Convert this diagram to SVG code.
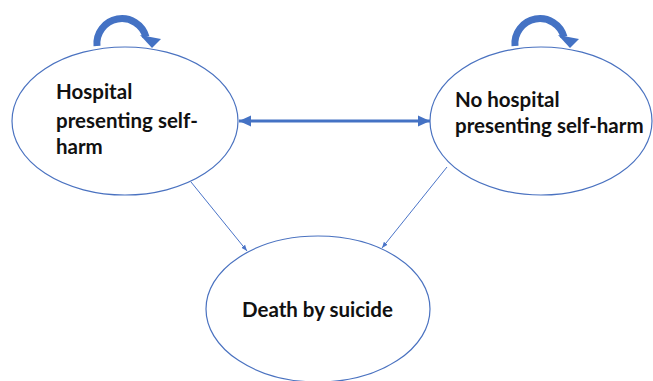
<svg xmlns="http://www.w3.org/2000/svg" width="653" height="381" viewBox="0 0 653 381">
<style>
.node ellipse{fill:#fff;stroke:#4A72C0;stroke-width:1.2}
.lbl{font-family:"Lato","Liberation Sans",sans-serif;font-weight:bold;font-size:20.5px;fill:#111}
.loop{fill:none;stroke:#4472C4;stroke-width:7}
.loophead{fill:#4472C4}
.thin{stroke:#4A74C8;stroke-width:1;fill:none}
.thick{stroke:#4472C4;stroke-width:3;fill:none}
</style>
<defs>
<marker id="ah" viewBox="0 0 10 10" refX="10" refY="5" markerWidth="4" markerHeight="4" orient="auto-start-reverse" markerUnits="strokeWidth"><path d="M0,0.5 L10,5 L0,9.5 z" fill="#4472C4"/></marker>
<marker id="ahs" viewBox="0 0 10 10" refX="10" refY="5" markerWidth="6" markerHeight="6" orient="auto" markerUnits="strokeWidth"><path d="M0,1 L10,5 L0,9 z" fill="#4A74C8"/></marker>
</defs>
<rect width="653" height="381" fill="#fff"/>
<g id="connectors">
<line class="thick" x1="239" y1="121" x2="430" y2="121" marker-start="url(#ah)" marker-end="url(#ah)"/>
<line class="thin" x1="191" y1="182" x2="247" y2="251" marker-end="url(#ahs)"/>
<line class="thin" x1="447" y1="167" x2="382" y2="248" marker-end="url(#ahs)"/>
</g>
<g id="node-hospital" class="node">
<ellipse cx="125" cy="121" rx="113" ry="74"/>
<text class="lbl" x="56" y="99">Hospital</text>
<text class="lbl" x="56" y="128">presenting self-</text>
<text class="lbl" x="56" y="154">harm</text>
<path class="loop" d="M97,46 A25,25 0 0 1 146,37"/>
<polygon class="loophead" points="140,35 161,39 152,48"/>
</g>
<g id="node-nohospital" class="node">
<ellipse cx="541" cy="121" rx="111" ry="74"/>
<text class="lbl" x="455" y="107">No hospital</text>
<text class="lbl" x="455" y="133">presenting self-harm</text>
<path class="loop" d="M515,46 A25,25 0 0 1 564,37"/>
<polygon class="loophead" points="558,35 579,39 570,48"/>
</g>
<g id="node-death" class="node">
<ellipse cx="318" cy="309" rx="112" ry="73"/>
<text class="lbl" x="242" y="317">Death by suicide</text>
</g>
</svg>
